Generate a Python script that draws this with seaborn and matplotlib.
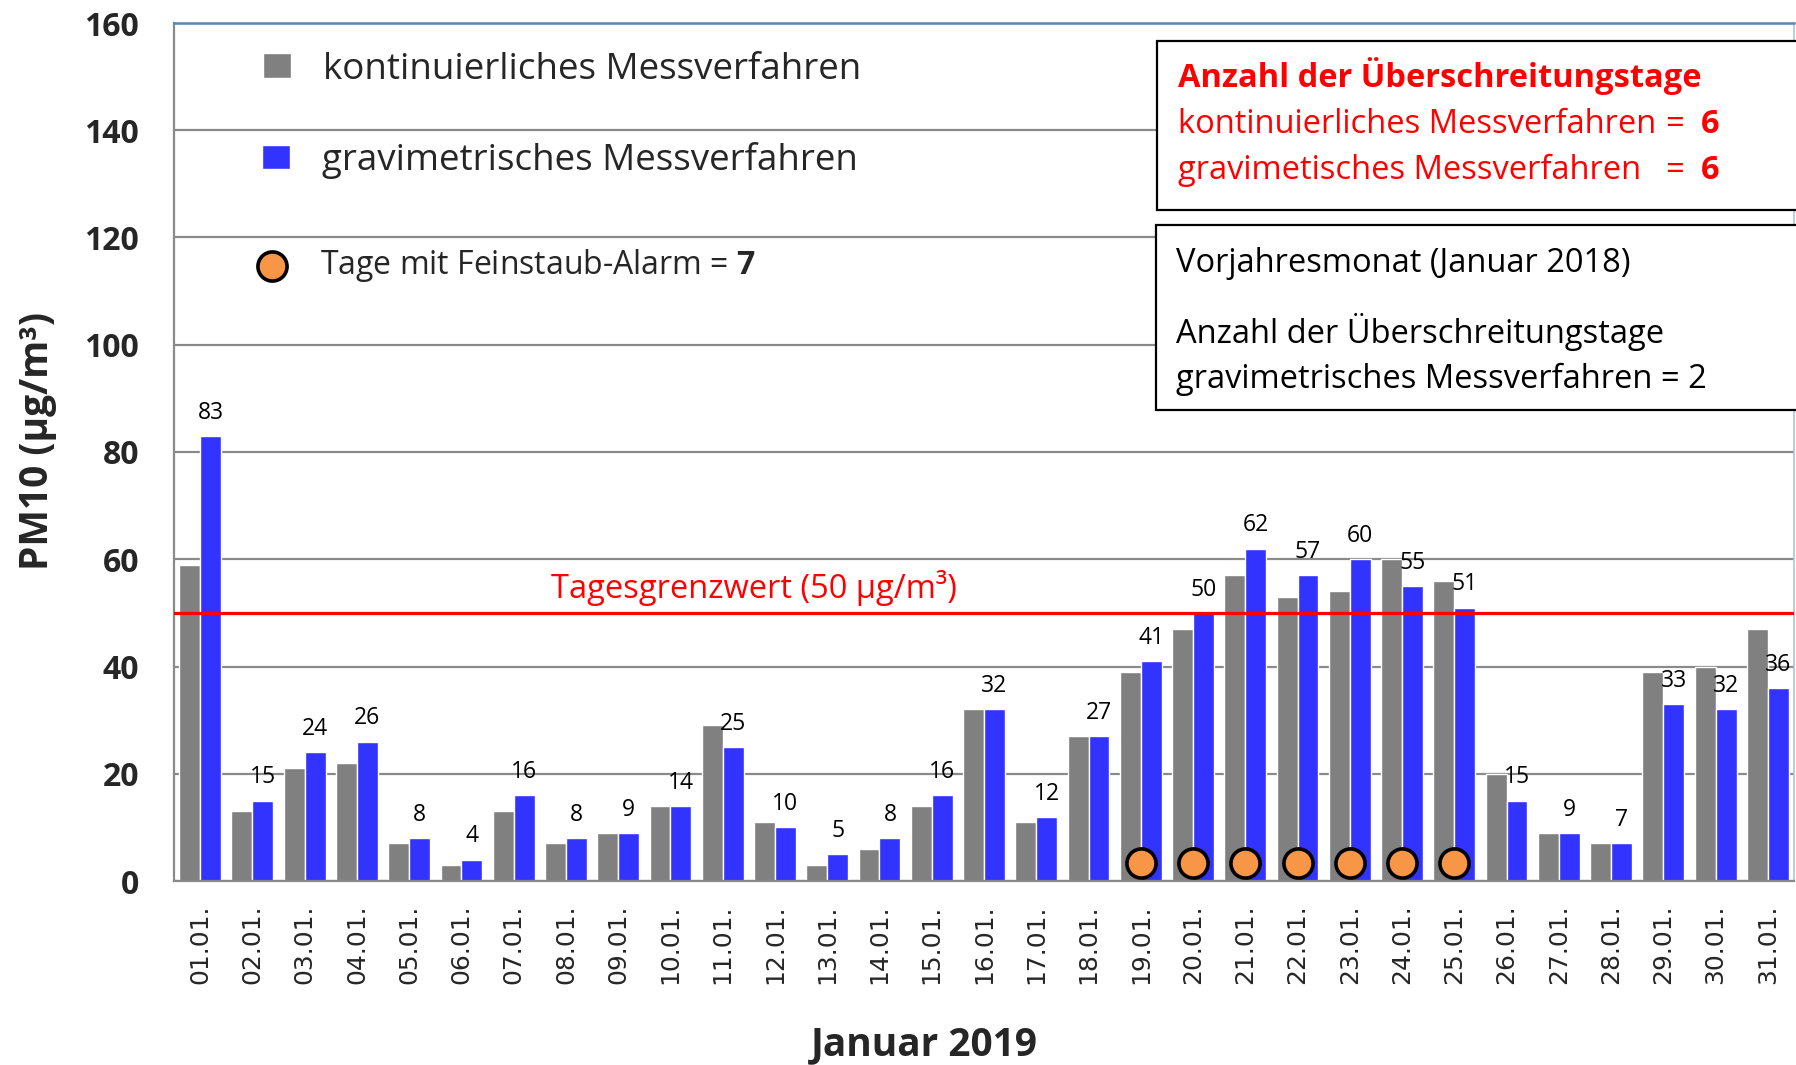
import matplotlib
matplotlib.use("Agg")
import matplotlib.pyplot as plt
import seaborn as sns
import pandas as pd
from matplotlib.patches import Rectangle

# Tageswerte PM10, Januar 2019
days = [f"{d:02d}.01." for d in range(1, 32)]
kontinuierlich = [59, 13, 21, 22, 7, 3, 13, 7, 9, 14, 29, 11, 3, 6, 14, 32,
                  11, 27, 39, 47, 57, 53, 54, 60, 56, 20, 9, 7, 39, 40, 47]
gravimetrisch = [83, 15, 24, 26, 8, 4, 16, 8, 9, 14, 25, 10, 5, 8, 16, 32,
                 12, 27, 41, 50, 62, 57, 60, 55, 51, 15, 9, 7, 33, 32, 36]
alarm_days = ["19.01.", "20.01.", "21.01.", "22.01.", "23.01.", "24.01.", "25.01."]
alarm_level = 3.4
grenzwert = 50
methods = ["kontinuierliches Messverfahren", "gravimetrisches Messverfahren"]

GREY = "#808080"
BLUE = "#3333FF"
RED = "#FF0000"
ORANGE = "#F79646"

sns.set_theme(style="white")
plt.rcParams["font.family"] = ["Open Sans", "DejaVu Sans"]
plt.rcParams["mathtext.fontset"] = "custom"
plt.rcParams["mathtext.rm"] = "Open Sans"
plt.rcParams["mathtext.bf"] = "Open Sans:bold"

df = pd.DataFrame({
    "Tag": days * 2,
    "Verfahren": [methods[0]] * len(days) + [methods[1]] * len(days),
    "PM10": kontinuierlich + gravimetrisch,
})

fig = plt.figure(figsize=(17.96, 10.65), dpi=100)
ax = fig.add_axes([174 / 1796, 184 / 1065, 1620 / 1796, 858 / 1065])

sns.barplot(data=df, x="Tag", y="PM10", hue="Verfahren", order=days,
            hue_order=methods, palette=[GREY, BLUE], saturation=1,
            width=0.8, legend=False, ax=ax, zorder=2)

ax.set_xlim(-0.5, len(days) - 0.5)
ax.set_ylim(0, 160)
ax.set_yticks(range(0, 161, 20))

# grid and spines
ax.yaxis.grid(True, color="#8A8A8A", lw=1.6)
ax.set_axisbelow(True)
for side in ["left", "bottom"]:
    ax.spines[side].set_color("#8A8A8A")
    ax.spines[side].set_linewidth(1.6)
ax.spines["top"].set_color("#5B84BA")
ax.spines["top"].set_linewidth(1.8)
ax.spines["right"].set_color("#A9C4E4")
ax.spines["right"].set_linewidth(1.2)

# ticks
ax.tick_params(axis="y", length=7, width=1.6, color="#8A8A8A", pad=18,
               labelsize=23)
for lab in ax.get_yticklabels():
    lab.set_fontweight("bold")
ax.set_xticks(range(len(days)))
ax.set_xticklabels(days, rotation=90, fontsize=18, family="DejaVu Sans")
ax.tick_params(axis="x", which="major", length=0, pad=17)
ax.set_xticks([i - 0.5 for i in range(len(days) + 1)], minor=True)
ax.tick_params(axis="x", which="minor", length=8, width=1.2, color="#8A8A8A")

# data labels on gravimetric bars
ax.bar_label(ax.containers[1], labels=[str(v) for v in gravimetrisch],
             padding=8, fontsize=16.5, color="black")

# Grenzwert line
ax.axhline(grenzwert, color=RED, lw=2.3, zorder=3)
ax.text(0.358, 54.7, "Tagesgrenzwert (50 µg/m³)", color=RED, fontsize=23.5,
        ha="center", va="center", transform=ax.get_yaxis_transform())

# Feinstaub-Alarm days
alarm_x = [days.index(d) for d in alarm_days]
alarm_pts = ax.scatter(alarm_x, [alarm_level] * len(alarm_x), s=440,
                       c=ORANGE, edgecolors="black", linewidths=2.6, zorder=5)

# legend rows
leg_kw = dict(frameon=False, loc="center left", borderpad=0, borderaxespad=0)
leg1 = ax.legend([ax.containers[0]], [methods[0]], fontsize=26.5,
                 handlelength=0.75, handleheight=0.65, handletextpad=0.87,
                 bbox_to_anchor=(0.0552, 0.9456), **leg_kw)
ax.add_artist(leg1)
leg2 = ax.legend([ax.containers[1]], [methods[1]], fontsize=26.5,
                 handlelength=0.75, handleheight=0.65, handletextpad=0.87,
                 bbox_to_anchor=(0.0545, 0.8398), **leg_kw)
ax.add_artist(leg2)
ax.legend([alarm_pts], [r"Tage mit Feinstaub-Alarm = $\mathbf{7}$"],
          fontsize=23, handlelength=1.1, handletextpad=0.93,
          bbox_to_anchor=(0.0499, 0.717), **leg_kw)

# info boxes
ax.add_patch(Rectangle((0.6068, 0.7824), 0.42, 0.1962, transform=ax.transAxes,
                       fc="white", ec="black", lw=1.6, clip_on=False, zorder=6))
ax.add_patch(Rectangle((0.6061, 0.5487), 0.42, 0.2163, transform=ax.transAxes,
                       fc="white", ec="black", lw=1.6, clip_on=False, zorder=6))
box_kw = dict(transform=ax.transAxes, fontsize=23.5, va="center", zorder=7)
ax.text(0.6195, 0.9386, "Anzahl der Überschreitungstage", color=RED,
        fontweight="bold", **box_kw)
ax.text(0.6195, 0.8812, "kontinuierliches Messverfahren", color=RED, **box_kw)
ax.text(0.6195, 0.8278, "gravimetisches Messverfahren", color=RED, **box_kw)
for y in [0.8812, 0.8278]:
    ax.text(0.9264, y, "=", color=RED, ha="center", **box_kw)
    ax.text(0.9484, y, "6", color=RED, ha="center", fontweight="bold", **box_kw)
ax.text(0.6188, 0.720, "Vorjahresmonat (Januar 2018)", color="black", **box_kw)
ax.text(0.6188, 0.6395, "Anzahl der Überschreitungstage", color="black", **box_kw)
ax.text(0.6188, 0.5847, "gravimetrisches Messverfahren = 2", color="black", **box_kw)

# axis labels
ax.set_xlabel("Januar 2019", fontsize=28, fontweight="bold")
ax.xaxis.label.set_va("center")
ax.xaxis.set_label_coords(0.4632, -0.191)
ax.set_ylabel("PM10 (µg/m³)", fontsize=28, fontweight="bold")
ax.yaxis.label.set_va("center")
ax.yaxis.set_label_coords(-0.0842, 0.5127)

fig.savefig("out.png", dpi=100)
